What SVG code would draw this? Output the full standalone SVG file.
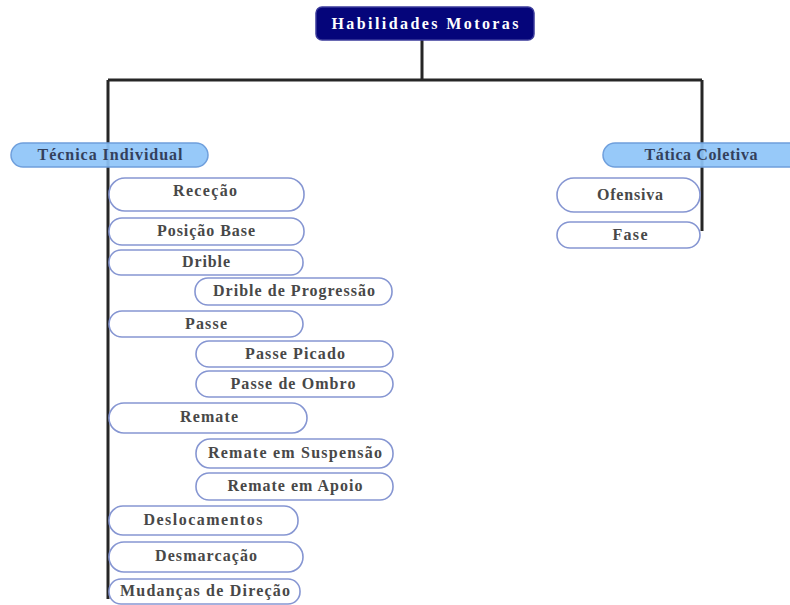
<svg xmlns="http://www.w3.org/2000/svg" width="790" height="605" viewBox="0 0 790 605">
<style>
.conn{fill:none;stroke:#262626;stroke-width:3}
.cat{fill:#8ec4f8;fill-opacity:0.92;stroke:#6f9fdc;stroke-width:1.5}
.leaf{fill:#ffffff;stroke:#8696d2;stroke-width:1.6}
.t{font-family:"Liberation Serif","Times New Roman",serif;font-size:16px;font-weight:bold;text-anchor:middle;fill:#484848}
.tc{fill:#33405c}
.tr{fill:#ffffff;font-size:16px}
</style>
<rect width="790" height="605" fill="#ffffff"/>
<g id="connectors">
<path class="conn" d="M422 40 V80 M108 80 H702 M108 80 V599 M702 80 V231"/>
</g>
<g id="root">
<rect x="316" y="7" width="218" height="33" rx="6" fill="#05057a" stroke="#3a3a9a" stroke-width="1.5"/>
<text class="t tr" x="425" y="29" textLength="187" lengthAdjust="spacing">Habilidades Motoras</text>
</g>
<g id="tecnica-individual">
<rect class="cat" x="11" y="143" width="197" height="24" rx="12"/>
<text class="t tc" x="110" y="160" textLength="145" lengthAdjust="spacing">Técnica Individual</text>
</g>
<g id="tatica-coletiva">
<rect class="cat" x="603" y="143" width="200" height="24" rx="12"/>
<text class="t tc" x="701" y="160" textLength="113" lengthAdjust="spacing">Tática Coletiva</text>
</g>
<g id="rececao">
<rect class="leaf" x="109" y="178" width="195" height="33" rx="16"/>
<text class="t" x="205" y="196" textLength="64" lengthAdjust="spacing">Receção</text>
</g>
<g id="posicao-base">
<rect class="leaf" x="109" y="218" width="195" height="27" rx="13"/>
<text class="t" x="206" y="236" textLength="98" lengthAdjust="spacing">Posição Base</text>
</g>
<g id="drible">
<rect class="leaf" x="109" y="250" width="194" height="25" rx="12"/>
<text class="t" x="206" y="267" textLength="48" lengthAdjust="spacing">Drible</text>
</g>
<g id="drible-progressao">
<rect class="leaf" x="195" y="278" width="197" height="27" rx="13"/>
<text class="t" x="294" y="296" textLength="162" lengthAdjust="spacing">Drible de Progressão</text>
</g>
<g id="passe">
<rect class="leaf" x="109" y="311" width="194" height="26" rx="13"/>
<text class="t" x="206" y="329" textLength="42" lengthAdjust="spacing">Passe</text>
</g>
<g id="passe-picado">
<rect class="leaf" x="196" y="341" width="197" height="26" rx="13"/>
<text class="t" x="295" y="359" textLength="100" lengthAdjust="spacing">Passe Picado</text>
</g>
<g id="passe-ombro">
<rect class="leaf" x="196" y="371" width="197" height="26" rx="13"/>
<text class="t" x="293" y="389" textLength="125" lengthAdjust="spacing">Passe de Ombro</text>
</g>
<g id="remate">
<rect class="leaf" x="109" y="403" width="198" height="30" rx="15"/>
<text class="t" x="209" y="422" textLength="58" lengthAdjust="spacing">Remate</text>
</g>
<g id="remate-suspensao">
<rect class="leaf" x="196" y="439" width="197" height="29" rx="14"/>
<text class="t" x="295" y="458" textLength="174" lengthAdjust="spacing">Remate em Suspensão</text>
</g>
<g id="remate-apoio">
<rect class="leaf" x="196" y="473" width="197" height="27" rx="13"/>
<text class="t" x="295" y="491" textLength="135" lengthAdjust="spacing">Remate em Apoio</text>
</g>
<g id="deslocamentos">
<rect class="leaf" x="109" y="506" width="189" height="29" rx="14"/>
<text class="t" x="203" y="525" textLength="119" lengthAdjust="spacing">Deslocamentos</text>
</g>
<g id="desmarcacao">
<rect class="leaf" x="109" y="542" width="194" height="30" rx="15"/>
<text class="t" x="206" y="561" textLength="102" lengthAdjust="spacing">Desmarcação</text>
</g>
<g id="mudancas-direcao">
<rect class="leaf" x="109" y="579" width="191" height="25" rx="12"/>
<text class="t" x="205" y="596" textLength="170" lengthAdjust="spacing">Mudanças de Direção</text>
</g>
<g id="ofensiva">
<rect class="leaf" x="557" y="178" width="143" height="34" rx="17"/>
<text class="t" x="630" y="200" textLength="66" lengthAdjust="spacing">Ofensiva</text>
</g>
<g id="fase">
<rect class="leaf" x="557" y="222" width="143" height="26" rx="13"/>
<text class="t" x="630" y="240" textLength="35" lengthAdjust="spacing">Fase</text>
</g>
</svg>
